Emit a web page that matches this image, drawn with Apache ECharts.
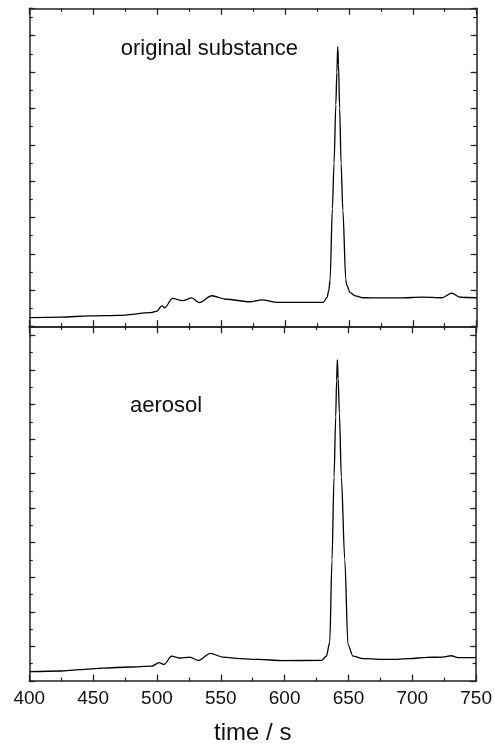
<!DOCTYPE html>
<html lang="en">
<head>
    <meta charset="UTF-8">
    <title>original substance / aerosol</title>
    <script src="https://cdn.jsdelivr.net/npm/echarts@6/dist/echarts.min.js"></script>
</head>
<body style="padding: 0; margin: 0; background: #fff">
    <div id="main" style="width: 495px; height: 746px;"></div>
<script>
    // time axis ticks
    var timeTicks = [400, 450, 500, 550, 600, 650, 700, 750];

    // upper trace: original substance
    var topTime = [400, 425, 447, 470, 495, 500, 503.6, 506, 512, 520, 527, 533, 542.7, 554, 572.6, 582, 594, 610, 630, 633, 634.3, 635.3, 637.1, 638.4, 639.8, 640.6, 641.3, 641.9, 642.8, 643.9, 645.3, 647.6, 648.3, 651, 655, 661.4, 675, 690, 708, 722.7, 730.5, 737, 750];
    var topVals = [0.0, 0.03, 0.09, 0.12, 0.27, 0.36, 0.65, 0.54, 1.06, 0.93, 1.08, 0.82, 1.20, 1.01, 0.87, 0.97, 0.84, 0.84, 0.84, 1.13, 1.5, 2.07, 6.0, 8.49, 11.7, 13.5, 14.88, 13.9, 11.5, 8.49, 5.9, 2.07, 1.79, 1.37, 1.19, 1.09, 1.08, 1.08, 1.13, 1.09, 1.34, 1.12, 1.09];

    // lower trace: aerosol
    var botTime = [400, 424, 439.7, 457.9, 478.8, 495.8, 501.7, 505.6, 511.4, 517.9, 525.7, 532.3, 541.9, 551.8, 564.9, 579.2, 598.7, 628.8, 632.7, 635.3, 637.1, 638.7, 640, 640.7, 641.3, 641.9, 642.9, 644.4, 647.1, 649.6, 653.5, 661.4, 682.2, 697.9, 710.9, 723.9, 730.5, 735.7, 750];
    var botVals = [0.04, 0.08, 0.16, 0.25, 0.31, 0.36, 0.56, 0.46, 0.94, 0.83, 0.88, 0.69, 1.10, 0.88, 0.79, 0.75, 0.68, 0.69, 0.94, 1.73, 6.51, 11.32, 14.8, 16.9, 18.10, 17.0, 15.0, 11.32, 6.51, 1.6, 0.94, 0.79, 0.75, 0.79, 0.87, 0.88, 0.96, 0.85, 0.85];

    var font = '"Liberation Sans", Arial, Helvetica, sans-serif';

    function pairs(xs, ys) {
        var out = [];
        for (var i = 0; i < xs.length; i++) out.push([xs[i], ys[i]]);
        return out;
    }

    function xAx(grid, pos, labels) {
        return {
            type: 'value', gridIndex: grid, position: pos,
            min: timeTicks[0], max: timeTicks[timeTicks.length - 1], interval: 50,
            axisLine: { onZero: false, lineStyle: { color: '#222', width: 1.5 } },
            axisTick: { inside: true, length: 6.5, lineStyle: { color: '#222', width: 1.3 } },
            minorTick: { show: true, splitNumber: 2, length: 3.5, lineStyle: { color: '#222', width: 1.2 } },
            axisLabel: { show: labels, margin: 8, color: '#111', fontSize: 19, fontFamily: font },
            splitLine: { show: false },
            name: labels ? 'time / s' : '', nameLocation: 'middle', nameGap: 40,
            nameTextStyle: { color: '#111', fontSize: 24, fontFamily: font }
        };
    }

    function yAx(grid, pos, max, step, len, line) {
        return {
            type: 'value', gridIndex: grid, position: pos,
            min: -0.5, max: max, interval: step,
            axisLine: { show: line, onZero: false, lineStyle: { color: '#222', width: 1.5 } },
            axisTick: { inside: true, length: len, lineStyle: { color: '#222', width: 1.2 } },
            axisLabel: { show: false },
            splitLine: { show: false }
        };
    }

    var chart = echarts.init(document.getElementById('main'));
    chart.setOption({
        animation: false,
        backgroundColor: '#fff',
        grid: [
            { left: 29.3, right: 18.3, top: 8.3, height: 318.4 },
            { left: 29.3, right: 18.3, top: 326.7, height: 355 }
        ],
        xAxis: [
            xAx(0, 'bottom', false), xAx(0, 'top', false),
            xAx(1, 'bottom', true), xAx(1, 'top', false)
        ],
        yAxis: [
            yAx(0, 'left', 17, 1, 3.5, true), yAx(0, 'left', 17, 2, 6, false),
            yAx(0, 'right', 17, 1, 3.5, true), yAx(0, 'right', 17, 2, 6, false),
            yAx(1, 'left', 20, 1, 3.5, true), yAx(1, 'left', 20, 2, 6, false),
            yAx(1, 'right', 20, 1, 3.5, true), yAx(1, 'right', 20, 2, 6, false)
        ],
        graphic: [
            { type: 'text', x: 120.7, y: 49, style: { text: 'original substance', fontSize: 22, fontFamily: font, fill: '#111', verticalAlign: 'middle' } },
            { type: 'text', x: 130, y: 406, style: { text: 'aerosol', fontSize: 22, fontFamily: font, fill: '#111', verticalAlign: 'middle' } }
        ],
        series: [
            {
                type: 'line', xAxisIndex: 0, yAxisIndex: 0, data: pairs(topTime, topVals),
                showSymbol: false, smooth: 0.3, smoothMonotone: 'x',
                lineStyle: { color: '#000', width: 1.3 }
            },
            {
                type: 'line', xAxisIndex: 2, yAxisIndex: 4, data: pairs(botTime, botVals),
                showSymbol: false, smooth: 0.3, smoothMonotone: 'x',
                lineStyle: { color: '#000', width: 1.3 }
            }
        ]
    });
</script>
</body>
</html>
